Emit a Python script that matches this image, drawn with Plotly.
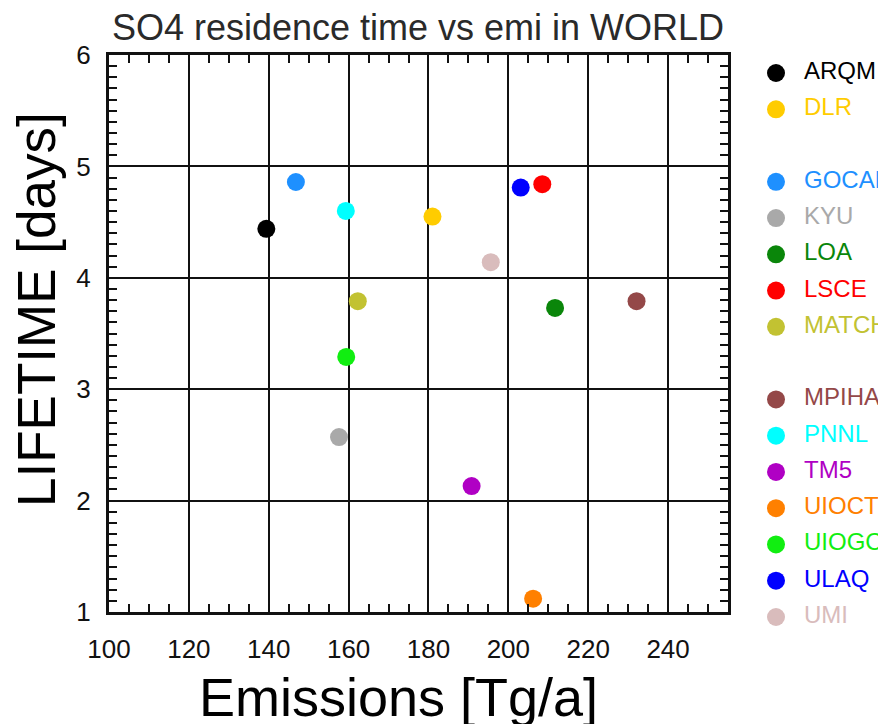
import plotly.graph_objects as go

# Model results: SO4 emissions vs. residence time (global)
models = ["ARQM", "DLR", "GOCART", "KYU", "LOA", "LSCE", "MATCH",
          "MPIHAM", "PNNL", "TM5", "UIOCTM", "UIOGCM", "ULAQ", "UMI"]
emissions = [139.4, 181.0, 146.8, 157.6, 211.7, 208.5, 162.3,
             232.1, 159.3, 190.8, 206.2, 159.4, 203.1, 195.6]
lifetime = [4.44, 4.55, 4.86, 2.57, 3.73, 4.84, 3.79,
            3.79, 4.60, 2.13, 1.12, 3.29, 4.81, 4.14]
colors = ["#000000", "#FFCC00", "#1E90FF", "#A9A9A9", "#0A860A", "#FF0000", "#C2C232",
          "#944848", "#00FFFF", "#B000C4", "#FF8000", "#11EE11", "#0000FF", "#D9BCBC"]

# Legend blocks, separated by one blank row
legend_groups = [["ARQM", "DLR"],
                 ["GOCART", "KYU", "LOA", "LSCE", "MATCH"],
                 ["MPIHAM", "PNNL", "TM5", "UIOCTM", "UIOGCM", "ULAQ", "UMI"]]

x_ticks = [100, 120, 140, 160, 180, 200, 220, 240]
y_ticks = [1, 2, 3, 4, 5, 6]

legend_rows = []
row = 0
for grp in legend_groups:
    for _ in grp:
        legend_rows.append(row)
        row += 1
    row += 1
order = [m for grp in legend_groups for m in grp]
legend_colors = [colors[models.index(m)] for m in order]

W, H = 878, 724
ML, MR, MT, MB = 109, 0, 55, 96
plot_w = W - ML - MR
plot_h = H - MT - MB
main_right = 728
main_bottom = 612
dom_x = (main_right - ML) / plot_w
dom_y0 = (H - MB - main_bottom) / plot_h
main_h = main_bottom - MT

FONT = "Liberation Sans, Arial, sans-serif"

fig = go.Figure()

fig.add_trace(go.Scatter(
    x=emissions, y=lifetime, mode="markers",
    marker=dict(size=18, color=colors, line=dict(width=0)),
    text=models, hovertemplate="%{text}: %{x}, %{y}<extra></extra>",
    showlegend=False, cliponaxis=False,
))

# Hand-drawn legend in its own strip to the right of the plot
fig.add_trace(go.Scatter(
    x=[48] * len(order), y=legend_rows, mode="markers",
    marker=dict(size=18, color=legend_colors, line=dict(width=0)),
    xaxis="x2", yaxis="y2", showlegend=False, cliponaxis=False, hoverinfo="skip",
))
fig.add_trace(go.Scatter(
    x=[76] * len(order), y=legend_rows, mode="text", text=order,
    textposition="middle right",
    textfont=dict(family=FONT, size=24, color=legend_colors),
    xaxis="x2", yaxis="y2", showlegend=False, cliponaxis=False, hoverinfo="skip",
))

axis_common = dict(
    showgrid=True, gridcolor="#111", gridwidth=2,
    showline=True, linecolor="#111", linewidth=3, mirror="allticks",
    ticks="inside", ticklen=8, tickwidth=2, tickcolor="#111",
    tickfont=dict(family=FONT, size=26, color="#111"),
    zeroline=False,
)

row_px = (617 - 73) / 15.0
row_top = -(73 - MT) / row_px
row_bottom = row_top + plot_h / row_px

fig.update_layout(
    width=W, height=H,
    margin=dict(l=ML, r=MR, t=MT, b=MB, pad=0),
    paper_bgcolor="white", plot_bgcolor="white",
    title=dict(text="SO4 residence time vs emi in WORLD",
               x=418 / W, xref="container", xanchor="center",
               y=1 - 27 / H, yref="container", yanchor="middle",
               font=dict(family=FONT, size=36, color="#2a2a2a")),
    xaxis=dict(domain=[0, dom_x], range=[100, 255], tickvals=x_ticks,
               minor=dict(dtick=5, tick0=100, ticks="inside", ticklen=8,
                          tickwidth=2, tickcolor="#111", showgrid=False),
               ticklabelstandoff=12, **axis_common),
    yaxis=dict(domain=[dom_y0, 1], range=[1, 6], tickvals=y_ticks,
               minor=dict(dtick=0.1, tick0=1, ticks="inside", ticklen=8,
                          tickwidth=2, tickcolor="#111", showgrid=False),
               ticklabelstandoff=10, **axis_common),
    xaxis2=dict(domain=[dom_x, 1], range=[0, W - main_right], visible=False,
                anchor="y2", fixedrange=True),
    yaxis2=dict(domain=[0, 1], range=[row_bottom, row_top], visible=False,
                anchor="x2", fixedrange=True),
    annotations=[
        dict(text="Emissions [Tg/a]", xref="paper", yref="paper",
             x=(398 - ML) / plot_w, y=(H - MB - 697) / plot_h,
             xanchor="center", yanchor="middle", showarrow=False,
             font=dict(family=FONT, size=54, color="#000")),
        dict(text="LIFETIME [days]", xref="paper", yref="paper",
             x=-(ML - 36) / plot_w, y=(H - MB - 310) / plot_h,
             xanchor="center", yanchor="middle", showarrow=False, textangle=-90,
             font=dict(family=FONT, size=53, color="#000")),
    ],
    showlegend=False,
)

fig.write_html("out.html")
